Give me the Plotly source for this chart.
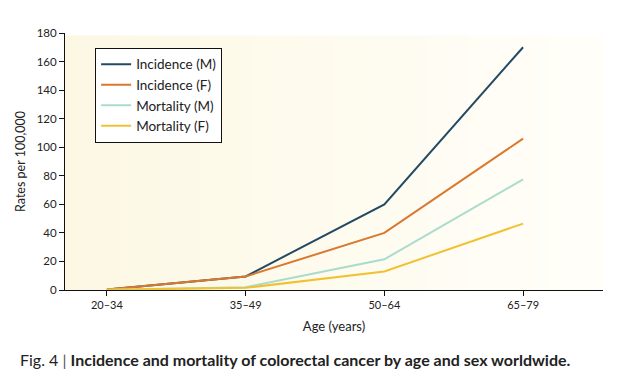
import plotly.graph_objects as go

age_groups = ["20–34", "35–49", "50–64", "65–79"]
incidence_m = [0.3, 9.5, 60, 170]
incidence_f = [0.3, 9.5, 40, 106]
mortality_m = [0.1, 2, 21.5, 77.5]
mortality_f = [0.1, 1.5, 13, 46.5]

series = [
    ("Incidence (M)", incidence_m, "#234a63"),
    ("Incidence (F)", incidence_f, "#d9782e"),
    ("Mortality (M)", mortality_m, "#a9dccd"),
    ("Mortality (F)", mortality_f, "#f0c232"),
]

fig = go.Figure()
for name, vals, col in series:
    fig.add_trace(go.Scatter(x=list(range(len(age_groups))), y=vals, mode="lines",
                             name=name, line=dict(color=col, width=2)))

# background gradient (cream to white), drawn as vertical strips
n = 40
c0 = (253, 248, 228)
c1 = (255, 254, 249)
for i in range(n):
    t = i / (n - 1)
    c = tuple(round(c0[k] + (c1[k] - c0[k]) * t) for k in range(3))
    fig.add_shape(type="rect", xref="paper", yref="paper",
                  x0=i / n, x1=(i + 1) / n + 0.002, y0=0, y1=0.99,
                  fillcolor="rgb(%d,%d,%d)" % c, line=dict(width=0), layer="below")

fig.update_layout(
    width=621, height=369,
    margin=dict(l=55, r=26, t=25, b=87),
    paper_bgcolor="white", plot_bgcolor="white",
    font=dict(family="Lato, 'Open Sans', sans-serif", color="#222", size=11),
    showlegend=True,
    legend=dict(x=0.056, y=0.942, xanchor="left", yanchor="top",
                bgcolor="white", bordercolor="#111", borderwidth=1,
                font=dict(size=13.5, color="#222"), tracegroupgap=0,
                itemwidth=30),
    xaxis=dict(range=[-0.302, 3.576], tickmode="array",
               tickvals=list(range(len(age_groups))), ticktext=age_groups,
               showgrid=False, zeroline=False, showline=True, linecolor="#111",
               linewidth=1, ticks="outside", ticklen=5, tickcolor="#111",
               tickfont=dict(size=11),
               title=dict(text="Age (years)", font=dict(size=13), standoff=11)),
    yaxis=dict(range=[0, 180], tickvals=list(range(0, 181, 20)),
               showgrid=False, zeroline=False, showline=True, linecolor="#111",
               linewidth=1, ticks="outside", ticklen=5, tickcolor="#111",
               tickfont=dict(size=11.5),
               title=dict(text="Rates per 100,000", font=dict(size=12.5), standoff=8)),
)

fig.add_annotation(xref="paper", yref="paper", x=-0.087, y=-0.225,
                   xanchor="left", yanchor="top", showarrow=False,
                   text="Fig. 4 <span style='color:#555'>|</span> <b>Incidence and mortality of colorectal cancer by age and sex worldwide.</b>",
                   font=dict(size=16, color="#222"))

fig.write_html("out.html")
